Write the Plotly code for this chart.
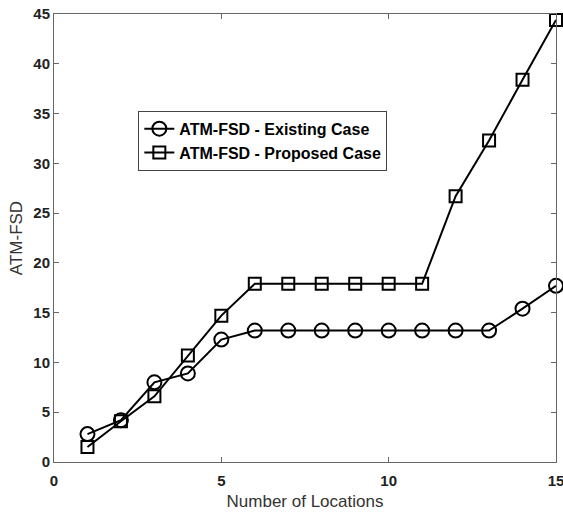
import plotly.graph_objects as go

locations = list(range(1, 16))
existing = [2.8, 4.2, 8.0, 8.9, 12.3, 13.2, 13.2, 13.2, 13.2, 13.2, 13.2, 13.2, 13.2, 15.4, 17.7]
proposed = [1.5, 4.1, 6.6, 10.7, 14.7, 17.9, 17.9, 17.9, 17.9, 17.9, 17.9, 26.7, 32.3, 38.4, 44.4]
x_ticks = [0, 5, 10, 15]
y_ticks = [0, 5, 10, 15, 20, 25, 30, 35, 40, 45]

fig = go.Figure()
fig.add_trace(go.Scatter(
    x=locations, y=existing, mode="lines+markers", name="ATM-FSD - Existing Case",
    line=dict(color="black", width=2),
    marker=dict(symbol="circle-open", size=14, color="black", line=dict(width=2)),
    cliponaxis=False,
))
fig.add_trace(go.Scatter(
    x=locations, y=proposed, mode="lines+markers", name="ATM-FSD - Proposed Case",
    line=dict(color="black", width=2),
    marker=dict(symbol="square-open", size=12, color="black", line=dict(width=2)),
    cliponaxis=False,
))

axis_common = dict(
    showgrid=False, zeroline=False, showline=True, linecolor="#666666", linewidth=1,
    mirror="ticks", ticks="inside", ticklen=5, tickcolor="#666666", automargin=False,
    ticklabeloverflow="allow",
    tickfont=dict(family="Liberation Sans", size=15, color="#222222", weight="bold"),
)
fig.update_xaxes(range=[0, 15], tickvals=x_ticks, ticklabelstandoff=5,
                 title=dict(text="Number of Locations", standoff=7,
                            font=dict(family="Liberation Sans", size=17, color="#333333")),
                 **axis_common)
fig.update_yaxes(range=[0, 45], tickvals=y_ticks,
                 title=dict(text="ATM-FSD", standoff=6,
                            font=dict(family="Liberation Sans", size=17, color="#333333")),
                 **axis_common)

fig.update_layout(
    width=563, height=512,
    margin=dict(l=54, r=7, t=14, b=50),
    plot_bgcolor="white", paper_bgcolor="white",
    legend=dict(x=0.168, y=0.784, xanchor="left", yanchor="top",
                bordercolor="#444444", borderwidth=1, bgcolor="white",
                font=dict(family="Liberation Sans", size=16, color="black", weight="bold"),
                tracegroupgap=0, itemwidth=30),
    showlegend=True,
)

fig.write_html("out.html", config={"displayModeBar": False},
               post_script="document.body.style.margin='0';document.body.style.overflow='hidden';")
